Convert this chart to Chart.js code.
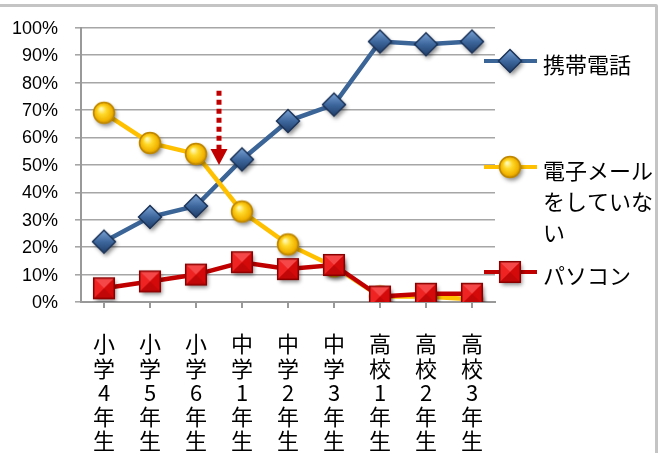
<!DOCTYPE html>
<html>
<head>
<meta charset="utf-8">
<script src="https://cdn.jsdelivr.net/npm/chart.js@4.4.1/dist/chart.umd.min.js"></script>
<style>
  html, body { margin: 0; padding: 0; background: #fff; overflow: hidden; }
  #wrap { position: relative; width: 662px; height: 453px; }
  #frame {
    position: absolute; left: -12px; top: 4px; width: 670px; height: 470px;
    border: 3px solid #c4c4c4; border-radius: 2px; box-sizing: border-box;
  }
  #chart { position: absolute; left: 0; top: 0; }
</style>
</head>
<body>
<div id="wrap">
  <div id="frame"></div>
  <canvas id="chart" width="662" height="453"></canvas>
</div>
<script>
// school grade categories, one character per line
const grades = [
  ["小", "学", "4", "年", "生"],
  ["小", "学", "5", "年", "生"],
  ["小", "学", "6", "年", "生"],
  ["中", "学", "1", "年", "生"],
  ["中", "学", "2", "年", "生"],
  ["中", "学", "3", "年", "生"],
  ["高", "校", "1", "年", "生"],
  ["高", "校", "2", "年", "生"],
  ["高", "校", "3", "年", "生"]
]

// percentages per grade
const phone = [22, 31, 35, 52, 66, 72, 95, 94, 95]
const noEmail = [69, 58, 54, 33, 21, 13, 2, 2, 1]
const pc = [5, 7.5, 10, 14.5, 12, 13.5, 2, 3, 3]

const seriesNames = ["携帯電話", "電子メールをしていない", "パソコン"]

// y axis: 0% .. 100% every 10
const yMin = 0
const yMax = 100
const yStep = 10

// red arrow marking the crossover (category index, from value, to value)
const arrowAt = 2.5
const arrowFrom = 77
const arrowTo = 50

const jpFont = "'Noto Sans CJK JP', 'Noto Sans', sans-serif"
const numFont = "'Liberation Sans', Arial, sans-serif"

// glossy marker images, drawn once and used as point styles
function makeMarker(kind) {
  const c = document.createElement("canvas")
  c.width = 36
  c.height = 36
  const g = c.getContext("2d")
  const cx = 18, cy = 18
  g.save()
  g.shadowColor = "rgba(0,0,0,0.45)"
  g.shadowBlur = 4
  g.shadowOffsetX = 2
  g.shadowOffsetY = 3
  g.beginPath()
  if (kind === "diamond") {
    const r = 11.5
    g.moveTo(cx, cy - r); g.lineTo(cx + r, cy); g.lineTo(cx, cy + r); g.lineTo(cx - r, cy)
    g.closePath()
    const lg = g.createLinearGradient(cx, cy - r, cx, cy + r)
    lg.addColorStop(0, "#7aa3d6")
    lg.addColorStop(0.5, "#3e689e")
    lg.addColorStop(1, "#1f3d68")
    g.fillStyle = lg
  } else if (kind === "circle") {
    const r = 10.5
    g.arc(cx, cy, r, 0, Math.PI * 2)
    const rg = g.createRadialGradient(cx - 3, cy - 4, 1, cx, cy, r)
    rg.addColorStop(0, "#fff7b0")
    rg.addColorStop(0.35, "#ffd92a")
    rg.addColorStop(0.8, "#f2b400")
    rg.addColorStop(1, "#c98e00")
    g.fillStyle = rg
  } else {
    const h = 10.3
    g.rect(cx - h, cy - h, h * 2, h * 2)
    g.fillStyle = "#e80c0c"
  }
  g.fill()
  g.restore()

  g.lineWidth = 1.5
  if (kind === "diamond") {
    g.strokeStyle = "#1b3358"
    g.stroke()
  } else if (kind === "circle") {
    g.strokeStyle = "#c08800"
    g.stroke()
  } else {
    // bevelled square: lighter top/left faces, darker bottom/right
    const h = 10.3
    g.fillStyle = "rgba(255,120,120,0.55)"
    g.beginPath(); g.moveTo(cx - h, cy - h); g.lineTo(cx + h, cy - h); g.lineTo(cx, cy); g.closePath(); g.fill()
    g.fillStyle = "rgba(255,80,80,0.35)"
    g.beginPath(); g.moveTo(cx - h, cy - h); g.lineTo(cx - h, cy + h); g.lineTo(cx, cy); g.closePath(); g.fill()
    g.fillStyle = "rgba(120,0,0,0.35)"
    g.beginPath(); g.moveTo(cx - h, cy + h); g.lineTo(cx + h, cy + h); g.lineTo(cx, cy); g.closePath(); g.fill()
    g.fillStyle = "rgba(150,0,0,0.25)"
    g.beginPath(); g.moveTo(cx + h, cy - h); g.lineTo(cx + h, cy + h); g.lineTo(cx, cy); g.closePath(); g.fill()
    g.strokeStyle = "#8a0000"
    g.strokeRect(cx - h, cy - h, h * 2, h * 2)
  }
  return c
}

const markers = {
  phone: makeMarker("diamond"),
  email: makeMarker("circle"),
  pc: makeMarker("square")
}

const colors = {
  phone: "#3b6497",
  email: "#ffc000",
  pc: "#c00000"
}

// dotted red arrow between 小学6年生 and 中学1年生
const arrowPlugin = {
  id: "arrow",
  afterDraw(chart) {
    const { ctx, scales } = chart
    const x = scales.x.getPixelForValue(arrowAt)
    const yTop = scales.y.getPixelForValue(arrowFrom)
    const yTip = scales.y.getPixelForValue(arrowTo)
    const headLen = 16
    ctx.save()
    ctx.strokeStyle = "#c00000"
    ctx.lineWidth = 5
    ctx.setLineDash([5, 4])
    ctx.beginPath()
    ctx.moveTo(x, yTop)
    ctx.lineTo(x, yTip - headLen)
    ctx.stroke()
    ctx.setLineDash([])
    ctx.fillStyle = "#c00000"
    ctx.beginPath()
    ctx.moveTo(x - 8.5, yTip - headLen)
    ctx.lineTo(x + 8.5, yTip - headLen)
    ctx.lineTo(x, yTip)
    ctx.closePath()
    ctx.fill()
    ctx.restore()
  }
}

// legend on the right, label text wrapped by width
const legendRows = [
  { key: "phone", y: 61 },
  { key: "email", y: 167 },
  { key: "pc", y: 272 }
]

function wrapText(ctx, text, maxWidth) {
  const lines = []
  let line = ""
  for (const ch of text) {
    if (line && ctx.measureText(line + ch).width > maxWidth) {
      lines.push(line)
      line = ch
    } else {
      line += ch
    }
  }
  if (line) lines.push(line)
  return lines
}

const legendPlugin = {
  id: "sideLegend",
  afterDraw(chart) {
    const { ctx } = chart
    ctx.save()
    ctx.font = "22px " + jpFont
    ctx.textBaseline = "middle"
    ctx.fillStyle = "#000"
    chart.data.datasets.forEach((ds, i) => {
      const row = legendRows[i]
      ctx.strokeStyle = ds.borderColor
      ctx.lineWidth = 4
      ctx.beginPath()
      ctx.moveTo(484, row.y)
      ctx.lineTo(537, row.y)
      ctx.stroke()
      const img = ds.pointStyle
      ctx.drawImage(img, 510 - img.width / 2, row.y - img.height / 2)
      const lines = wrapText(ctx, ds.label, 118)
      lines.forEach((ln, j) => {
        ctx.fillText(ln, 543, row.y + 4 + j * 31)
      })
    })
    ctx.restore()
  }
}

new Chart(document.getElementById("chart"), {
  type: "line",
  data: {
    labels: grades,
    datasets: [
      {
        label: seriesNames[0],
        data: phone,
        borderColor: colors.phone,
        borderWidth: 4.5,
        pointStyle: markers.phone,
        pointRadius: 12,
        order: 3
      },
      {
        label: seriesNames[1],
        data: noEmail,
        borderColor: colors.email,
        borderWidth: 4.5,
        pointStyle: markers.email,
        pointRadius: 12,
        order: 2
      },
      {
        label: seriesNames[2],
        data: pc,
        borderColor: colors.pc,
        borderWidth: 4.5,
        pointStyle: markers.pc,
        pointRadius: 12,
        order: 1
      }
    ]
  },
  options: {
    responsive: false,
    animation: false,
    events: [],
    layout: {
      padding: { top: 22, right: 167, left: 0, bottom: 0 }
    },
    plugins: {
      legend: { display: false },
      tooltip: { enabled: false }
    },
    scales: {
      x: {
        offset: true,
        afterFit(scale) { scale.height = 151 },
        grid: {
          drawOnChartArea: false,
          tickLength: 6,
          color: "#999",
          lineWidth: 2
        },
        border: { color: "#999", width: 2 },
        ticks: {
          maxRotation: 0,
          autoSkip: false,
          padding: 24,
          color: "#000",
          font: { family: jpFont, size: 22, lineHeight: 1.1 }
        }
      },
      y: {
        min: yMin,
        max: yMax,
        afterFit(scale) { scale.width = 81 },
        grid: {
          color: "#a6a6a6",
          lineWidth: 1.6,
          tickLength: 6
        },
        border: { color: "#999", width: 2 },
        ticks: {
          stepSize: yStep,
          padding: 17,
          labelOffset: 1,
          color: "#000",
          font: { family: numFont, size: 18 },
          callback: v => v + "%"
        }
      }
    }
  },
  plugins: [arrowPlugin, legendPlugin]
})
</script>
</body>
</html>
